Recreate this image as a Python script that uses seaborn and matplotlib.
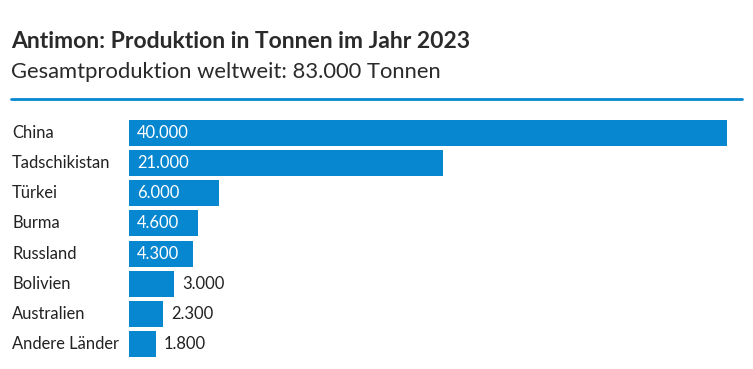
import matplotlib
matplotlib.use("Agg")
import matplotlib.pyplot as plt
import seaborn as sns
import pandas as pd
from matplotlib.lines import Line2D

sns.set_style("white")
plt.rcParams['font.family'] = ['Lato', 'DejaVu Sans']

# data
laender = ['China', 'Tadschikistan', 'Türkei', 'Burma', 'Russland',
           'Bolivien', 'Australien', 'Andere Länder']
tonnen = [40000, 21000, 6000, 4600, 4300, 3000, 2300, 1800]

title = 'Antimon: Produktion in Tonnen im Jahr 2023'
subtitle = 'Gesamtproduktion weltweit: 83.000 Tonnen'

blue = '#0787cf'
W, H = 753, 369

df = pd.DataFrame({'Land': laender, 'Tonnen': tonnen})

fig = plt.figure(figsize=(W / 100, H / 100), dpi=100)
ax = fig.add_axes([129 / W, 1 - 359 / H, (727 - 129) / W, (359 - 118) / H])

sns.barplot(data=df, y='Land', x='Tonnen', orient='h', color=blue,
            saturation=1, width=0.86, linewidth=0, ax=ax)
ax.set_xlim(0, 40000)
ax.set_ylim(7.5, -0.5)
ax.set_xlabel('')
ax.set_ylabel('')
ax.set_xticks([])
ax.set_yticklabels([])
ax.tick_params(left=False)
sns.despine(ax=ax, left=True, bottom=True)

def fmt(v):
    return f'{v:,}'.replace(',', '.')

px = 40000 / 598
for i, (land, v) in enumerate(zip(laender, tonnen)):
    ax.text(-117 * px, i, land, ha='left', va='center',
            fontsize=11.9, color='#222222')
    if v >= 4000:
        ax.text(8 * px, i, fmt(v), ha='left', va='center',
                fontsize=11.9, color='white')
    else:
        ax.text(v + 8 * px, i, fmt(v), ha='left', va='center',
                fontsize=11.9, color='#222222')

fig.text(11 / W, 1 - 42 / H, title, fontsize=16.5, fontweight='bold',
         color='#2a2a2a', va='center', ha='left')
fig.text(11 / W, 1 - 72 / H, subtitle, fontsize=15.8, color='#2a2a2a',
         va='center', ha='left')
fig.add_artist(Line2D([11 / W, 742 / W], [1 - 99 / H, 1 - 99 / H],
                      color=blue, lw=2, transform=fig.transFigure))

fig.savefig('out.png', dpi=100)
